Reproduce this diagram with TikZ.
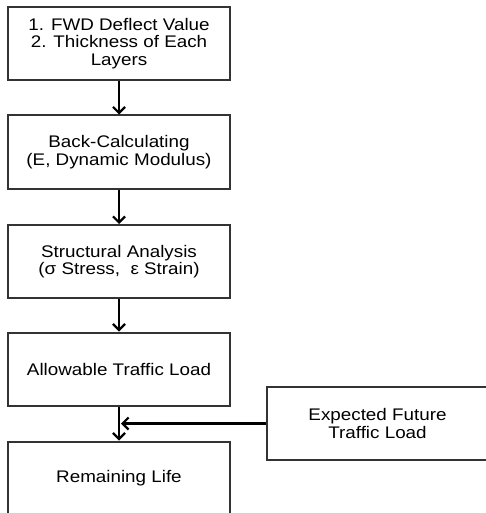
\documentclass[tikz,border=0pt]{standalone}
\usepackage{fontspec}
\setmainfont[FakeStretch=1.12]{Liberation Sans}
\usetikzlibrary{arrows.meta}
\begin{document}
\begin{tikzpicture}[x=1pt,y=-1pt,
  box/.style={draw=black!80,line width=2pt,minimum width=222pt,minimum height=73pt,
    align=center,inner sep=0pt,font=\fontsize{16.8pt}{17.5pt}\selectfont},
  flow/.style={line width=2.2pt,draw=black,-{Straight Barb[length=6pt,width=12pt,line width=2.2pt]}}]
\useasboundingbox (0,0) rectangle (486,513);
\clip (0,0) rectangle (486,513);
\node[box] (b1) at (119,43.5) {1. FWD Deflect Value\\2. Thickness of Each\\Layers};
\node[box] (b2) at (119,152) {Back-Calculating\\(E, Dynamic Modulus)};
\node[box] (b3) at (119,261.5) {Structural Analysis\\(σ Stress,\ \ ε Strain)};
\node[box] (b4) at (119,369) {Allowable Traffic Load};
\node[box] (b5) at (119,478) {Remaining Life};
\node[box,minimum width=221pt] (ex) at (377.5,423.5) {Expected Future\\Traffic Load};
\draw[flow] (b1) -- (b2);
\draw[flow] (b2) -- (b3);
\draw[flow] (b3) -- (b4);
\draw[flow] (b4) -- (b5);
\coordinate (m) at (b4.south |- ex.west);
\draw[flow] (ex.west) -- ([xshift=2pt]m);
\end{tikzpicture}
\end{document}
